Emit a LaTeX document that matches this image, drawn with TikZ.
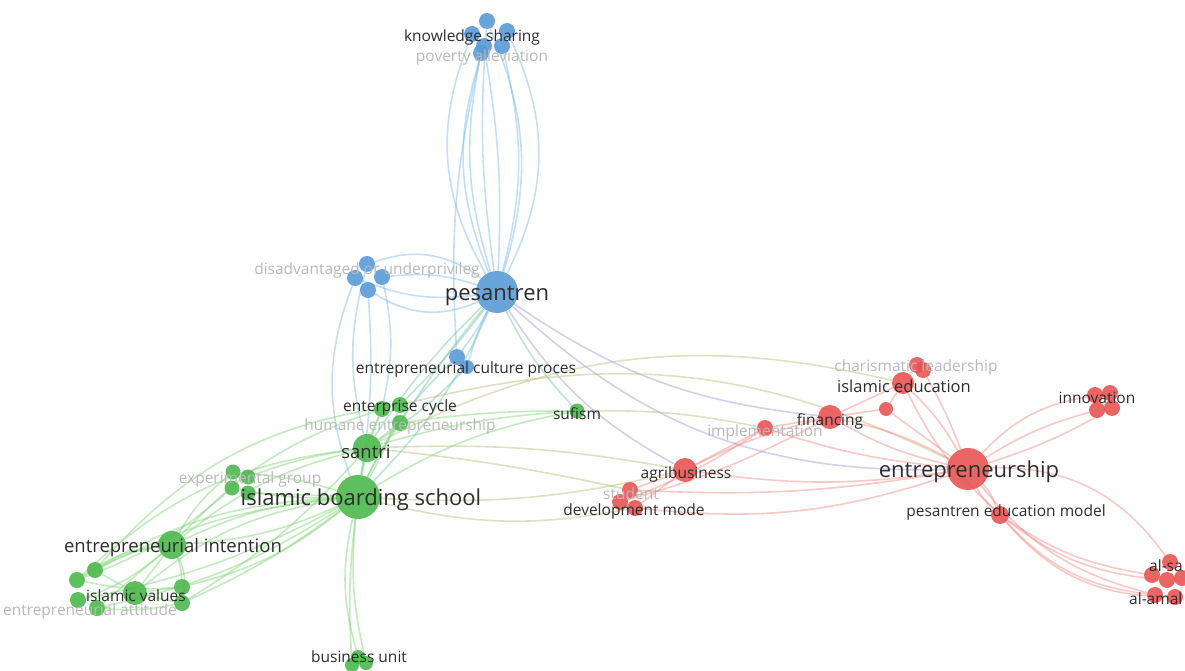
\documentclass[tikz,border=0pt]{standalone}
\usepackage{fontspec}
\setmainfont{Open Sans}
\usetikzlibrary{backgrounds}
\definecolor{bnode}{RGB}{84,153,214}
\definecolor{gnode}{RGB}{72,182,72}
\definecolor{rnode}{RGB}{232,80,80}
\definecolor{eblue}{RGB}{120,185,235}
\definecolor{egreen}{RGB}{125,210,115}
\definecolor{ered}{RGB}{242,135,130}
\definecolor{eteal}{RGB}{110,195,170}
\definecolor{epurple}{RGB}{160,150,210}
\definecolor{eolive}{RGB}{185,185,120}
\definecolor{labdark}{RGB}{45,45,45}
\definecolor{labgray}{RGB}{185,185,185}
\tikzset{
  kw/.style={circle, inner sep=0pt, draw=none, fill opacity=0.88},
  bn/.style={kw, fill=bnode},
  gn/.style={kw, fill=gnode},
  rn/.style={kw, fill=rnode},
  lab/.style={text=labdark, inner sep=0pt, yshift=-3pt, font=\fontsize{15.5}{15.5}\selectfont},
  labg/.style={lab, text=labgray},
  big/.style={font=\fontsize{22}{22}\selectfont},
  mid/.style={font=\fontsize{16.5}{16.5}\selectfont},
  mida/.style={font=\fontsize{18.5}{18.5}\selectfont},
  ed/.style={line width=1.6pt, draw opacity=0.45},
  eb/.style={ed, draw=eblue},
  eg/.style={ed, draw=egreen},
  er/.style={ed, draw=ered},
  et/.style={ed, draw=eteal},
  ep/.style={ed, draw=epurple},
  eo/.style={ed, draw=eolive},
}
\begin{document}
\begin{tikzpicture}[x=1pt,y=-1pt]
\useasboundingbox (0,0) rectangle (1185,671);
% ---------- blue nodes
\node[bn, minimum size=42] (pes) at (497,292) {};
\node[bn, minimum size=16] (ks1) at (487,21) {};
\node[bn, minimum size=16] (ks2) at (472,34) {};
\node[bn, minimum size=16] (ks3) at (507,31) {};
\node[bn, minimum size=16] (ks4) at (484,46) {};
\node[bn, minimum size=16] (ks5) at (502,46) {};
\node[bn, minimum size=16] (ks6) at (481,53) {};
\node[bn, minimum size=16] (dis1) at (367,264) {};
\node[bn, minimum size=16] (dis2) at (355,278) {};
\node[bn, minimum size=16] (dis3) at (382,277) {};
\node[bn, minimum size=16] (dis4) at (368,290) {};
\node[bn, minimum size=16] (ecp1) at (457,357) {};
\node[bn, minimum size=14] (ecp2) at (467,367) {};
% ---------- green nodes
\node[gn, minimum size=44] (ibs) at (358,497) {};
\node[gn, minimum size=28] (san) at (367,448) {};
\node[gn, minimum size=16] (ec1) at (382,409) {};
\node[gn, minimum size=16] (ec2) at (400,405) {};
\node[gn, minimum size=16] (hum) at (400,423) {};
\node[gn, minimum size=15] (suf) at (577,411) {};
\node[gn, minimum size=15] (ex1) at (233,472) {};
\node[gn, minimum size=15] (ex2) at (248,477) {};
\node[gn, minimum size=15] (ex3) at (232,488) {};
\node[gn, minimum size=15] (ex4) at (248,493) {};
\node[gn, minimum size=28] (ei) at (172,545) {};
\node[gn, minimum size=24] (iv) at (135,593) {};
\node[gn, minimum size=16] (iv1) at (95,570) {};
\node[gn, minimum size=16] (iv2) at (77,580) {};
\node[gn, minimum size=16] (iv3) at (78,600) {};
\node[gn, minimum size=16] (iv4) at (97,608) {};
\node[gn, minimum size=16] (iv5) at (182,587) {};
\node[gn, minimum size=16] (iv6) at (182,603) {};
\node[gn, minimum size=14] (bu1) at (358,657) {};
\node[gn, minimum size=14] (bu2) at (366,663) {};
\node[gn, minimum size=14] (bu3) at (352,665) {};
% ---------- red nodes
\node[rn, minimum size=42] (ent) at (968,469) {};
\node[rn, minimum size=22] (ie) at (903,383) {};
\node[rn, minimum size=16] (cl1) at (917,365) {};
\node[rn, minimum size=16] (cl2) at (923,370) {};
\node[rn, minimum size=14] (n886) at (886,409) {};
\node[rn, minimum size=24] (fin) at (830,417) {};
\node[rn, minimum size=16] (imp) at (765,428) {};
\node[rn, minimum size=24] (agr) at (685,470) {};
\node[rn, minimum size=16] (stu) at (630,490) {};
\node[rn, minimum size=16] (dev1) at (620,502) {};
\node[rn, minimum size=16] (dev2) at (635,508) {};
\node[rn, minimum size=18] (pem) at (1000,515) {};
\node[rn, minimum size=16] (in1) at (1095,395) {};
\node[rn, minimum size=16] (in2) at (1110,393) {};
\node[rn, minimum size=16] (in3) at (1097,410) {};
\node[rn, minimum size=16] (in4) at (1112,408) {};
\node[rn, minimum size=16] (as1) at (1170,562) {};
\node[rn, minimum size=16] (as2) at (1152,575) {};
\node[rn, minimum size=16] (as3) at (1167,580) {};
\node[rn, minimum size=16] (as4) at (1182,578) {};
\node[rn, minimum size=16] (as5) at (1155,595) {};
\node[rn, minimum size=16] (as6) at (1175,597) {};

\begin{pgfonlayer}{background}
% blue edges
\draw[eb] (pes) to[bend left=26] (ks2);
\draw[eb] (pes) to[bend left=14] (ks6);
\draw[eb] (pes) to[bend left=6] (ks1);
\draw[eb] (pes) to[bend right=6] (ks4);
\draw[eb] (pes) to[bend right=14] (ks5);
\draw[eb] (pes) to[bend right=26] (ks3);
\draw[eb] (pes) to[bend left=20] (ks4);
\draw[eb] (pes) to[bend right=20] (ks1);
\draw[eb] (pes) to[bend right=28] (dis1);
\draw[eb] (pes) to[bend right=12] (dis3);
\draw[eb] (pes) to[bend left=28] (dis4);
\draw[eb] (pes) to[bend left=14] (dis2);
\draw[eb] (dis2) to[bend right=20] (ibs);
\draw[eb] (dis1) to[bend right=14] (san);
\draw[eb] (dis3) to[bend left=12] (ec1);
\draw[eb] (dis4) to[bend left=6] (ibs);
\draw[eb] (pes) to[bend left=5] (ecp1);
\draw[eb] (pes) to[bend right=5] (ecp2);
\draw[eb] (ks6) to[bend right=8] (ecp1);
\draw[et] (pes) to[bend right=6] (san);
\draw[et] (pes) to[bend left=4] (ec2);
\draw[et] (pes) to[bend right=3] (hum);
\draw[et] (pes) to[bend left=10] (ibs);
\draw[et] (ecp1) to[bend right=10] (ibs);
\draw[et] (ecp2) to[bend left=6] (san);
\draw[et] (pes) to[bend right=8] (suf);
\draw[ep] (pes) to[bend right=22] (ent);
\draw[ep] (pes) to[bend right=14] (fin);
\draw[ep] (pes) to[bend right=14] (agr);
% green edges
\draw[eg] (ibs) to (san);
\draw[eg] (ibs) to[bend left=8] (ec1);
\draw[eg] (ibs) to[bend right=6] (ec2);
\draw[eg] (ibs) to[bend left=4] (hum);
\draw[eg] (san) to (ec1);
\draw[eg] (san) to (hum);
\draw[eg] (ibs) to[bend left=10] (ei);
\draw[eg] (ibs) to[bend right=10] (ei);
\draw[eg] (ibs) to[bend right=15] (iv);
\draw[eg] (ibs) to[bend right=10] (iv1);
\draw[eg] (ibs) to[bend right=14] (iv2);
\draw[eg] (ibs) to[bend left=8] (iv3);
\draw[eg] (ibs) to[bend left=10] (iv4);
\draw[eg] (ibs) to[bend left=12] (iv5);
\draw[eg] (ibs) to[bend left=6] (iv6);
\draw[eg] (san) to[bend right=12] (ei);
\draw[eg] (san) to[bend right=18] (iv2);
\draw[eg] (san) to[bend left=8] (iv6);
\draw[eg] (ec1) to[bend right=14] (ei);
\draw[eg] (ec2) to[bend right=20] (iv1);
\draw[eg] (ibs) to[bend right=6] (ex1);
\draw[eg] (ibs) to[bend left=6] (ex3);
\draw[eg] (san) to[bend right=6] (ex2);
\draw[eg] (ibs) to (ex4);
\draw[eg] (ex1) to[bend right=10] (ei);
\draw[eg] (ex3) to[bend left=10] (iv2);
\draw[eg] (ei) to (iv);
\draw[eg] (ei) to[bend right=10] (iv1);
\draw[eg] (ei) to[bend right=14] (iv2);
\draw[eg] (ei) to[bend left=10] (iv3);
\draw[eg] (ei) to (iv4);
\draw[eg] (ei) to[bend left=10] (iv5);
\draw[eg] (ei) to[bend left=18] (iv6);
\draw[eg] (iv) to (iv5);
\draw[eg] (iv1) to[bend right=10] (iv6);
\draw[eg] (iv2) to[bend right=8] (iv5);
\draw[eg] (iv4) to[bend right=8] (iv6);
\draw[eg] (ibs) to[bend right=14] (bu1);
\draw[eg] (ibs) to[bend right=9] (bu2);
\draw[eg] (ibs) to[bend right=5] (bu3);
\draw[eg] (ibs) to[bend left=10] (suf);
\draw[eg] (san) to[bend left=6] (suf);
\draw[eg] (hum) to[bend left=4] (suf);
\draw[eo] (ec2) to[bend left=20] (ent);
\draw[eo] (san) to[bend left=20] (ie);
\draw[eo] (ibs) to[bend right=8] (agr);
\draw[eo] (ibs) to[bend right=12] (dev2);
\draw[eo] (san) to[bend left=6] (agr);
\draw[eo] (san) to[bend left=3] (stu);
\draw[eo] (suf) to[bend left=6] (imp);
% red edges
\draw[er] (ent) to[bend right=8] (ie);
\draw[er] (ent) to[bend right=4] (cl2);
\draw[er] (ent) to (n886);
\draw[er] (ent) to[bend left=8] (fin);
\draw[er] (ent) to[bend right=8] (fin);
\draw[er] (ent) to[bend left=6] (imp);
\draw[er] (ent) to[bend left=8] (agr);
\draw[er] (ent) to[bend left=12] (dev2);
\draw[er] (ent) to[bend left=6] (stu);
\draw[er] (ent) to[bend left=10] (pem);
\draw[er] (ent) to[bend right=10] (pem);
\draw[er] (ent) to[bend left=18] (in1);
\draw[er] (ent) to[bend left=8] (in3);
\draw[er] (ent) to[bend right=6] (in4);
\draw[er] (ent) to[bend left=28] (as1);
\draw[er] (pem) to[bend right=12] (as2);
\draw[er] (pem) to[bend right=16] (as3);
\draw[er] (pem) to[bend right=20] (as5);
\draw[er] (pem) to[bend right=24] (as6);
\draw[er] (ent) to[bend right=18] (as5);
\draw[er] (fin) to (ie);
\draw[er] (fin) to (n886);
\draw[er] (fin) to (imp);
\draw[er] (fin) to[bend right=6] (agr);
\draw[er] (fin) to[bend left=6] (dev1);
\draw[er] (ie) to (cl1);
\draw[er] (ie) to (n886);
\draw[er] (imp) to (agr);
\draw[er] (agr) to (stu);
\draw[er] (agr) to (dev2);
\draw[er] (imp) to[bend left=6] (dev1);
\draw[er] (ie) to[bend right=10] (pem);
\end{pgfonlayer}

% ---------- labels
\node[labg] (Lpov) at (482,54) {poverty alleviation};
\node[lab] (Lks) at (472,34) {knowledge sharing};
\node[labg] (Ldis) at (367,267) {disadvantaged or underprivileg};
\node[lab, big] (Lpes) at (497,293) {pesantren};
\node[lab] (Lecp) at (466,366) {entrepreneurial culture proces};
\node[lab] (Lec) at (400,404) {enterprise cycle};
\node[labg] (Lhum) at (400,423) {humane entrepreneurship};
\node[lab] (Lsuf) at (577,411) {sufism};
\node[lab, mida] (Lsan) at (366,449) {santri};
\node[labg] (Lex) at (250,476) {experimental group};
\node[lab, big] (Libs) at (361,497) {islamic boarding school};
\node[lab, mida] (Lei) at (173,545) {entrepreneurial intention};
\node[labg] (Lea) at (90,608) {entrepreneurial attitude};
\node[lab] (Liv) at (136,593) {islamic values};
\node[lab] (Lbu) at (359,654) {business unit};
\node[labg] (Lcl) at (916,364) {charismatic leadership};
\node[lab, mid] (Lie) at (904,383) {islamic education};
\node[labg] (Limp) at (765,429) {implementation};
\node[lab] (Lfin) at (830,418) {financing};
\node[lab] (Lagr) at (686,471) {agribusiness};
\node[labg] (Lstu) at (631,491) {student};
\node[lab] (Ldev) at (634,508) {development mode};
\node[lab, big] (Lent) at (969,469) {entrepreneurship};
\node[lab] (Lpem) at (1006,509) {pesantren education model};
\node[lab] (Linn) at (1097,395) {innovation};
\node[lab, anchor=west] (Las) at (1149,563) {al-sa};
\node[lab, anchor=west] (Lam) at (1129,596) {al-amal};
\end{tikzpicture}
\end{document}
